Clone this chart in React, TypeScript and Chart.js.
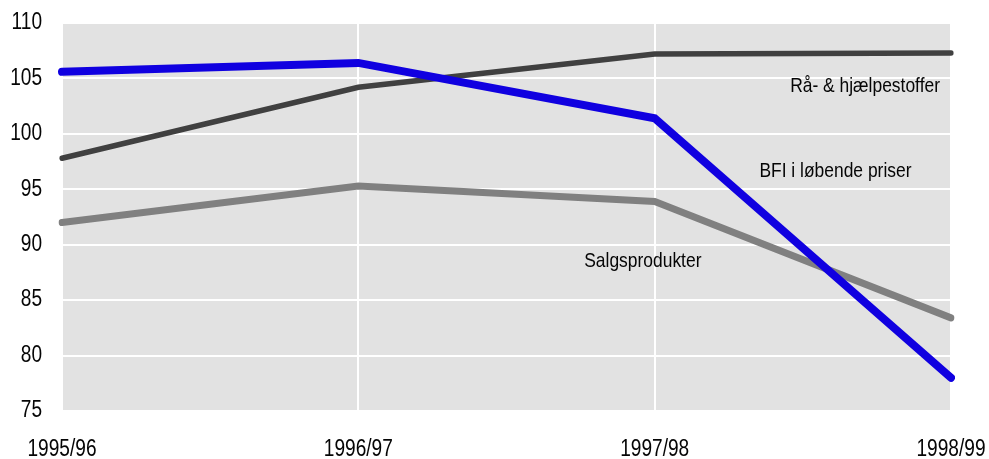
import React, { useEffect, useRef } from "react";
import { Chart, registerables } from "chart.js";

Chart.register(...registerables);

const categories = ["1995/96", "1996/97", "1997/98", "1998/99"];
const raaHjaelpestoffer = [97.8, 104.2, 107.2, 107.3];
const salgsprodukter = [92.0, 95.3, 93.9, 83.4];
const bfiLobendePriser = [105.6, 106.4, 101.4, 78.0];
const yTicks = [75, 80, 85, 90, 95, 100, 105, 110];

const seriesLabels = ["Rå- & hjælpestoffer", "BFI i løbende priser", "Salgsprodukter"];
const labelX = [2.71, 2.61, 1.96];
const labelY = [104.3, 96.6, 88.5];

const FONT = "'Liberation Sans', Arial, sans-serif";
const NARROW = 0.83;

function narrowText(ctx: any, text: string, x: number, y: number, align: "left" | "right" | "center") {
  ctx.save();
  ctx.translate(x, y);
  ctx.scale(NARROW, 1);
  ctx.textAlign = align;
  ctx.fillText(text, 0, 0);
  ctx.restore();
}

const bgPlugin = {
  id: "plotBg",
  beforeDraw(chart: any) {
    const { ctx, chartArea } = chart;
    ctx.save();
    ctx.fillStyle = "#e2e2e2";
    ctx.fillRect(chartArea.left, chartArea.top, chartArea.right - chartArea.left, chartArea.bottom - chartArea.top);
    ctx.restore();
  },
};

const textPlugin = {
  id: "narrowTexts",
  afterDraw(chart: any) {
    const { ctx, scales, chartArea } = chart;
    ctx.save();
    ctx.fillStyle = "#050505";
    ctx.textBaseline = "middle";
    ctx.font = `23px ${FONT}`;
    yTicks.forEach((v) => {
      narrowText(ctx, String(v), chartArea.left - 20, scales.y.getPixelForValue(v), "right");
    });
    categories.forEach((c, i) => {
      narrowText(ctx, c, scales.x.getPixelForValue(i), chartArea.bottom + 39, "center");
    });
    ctx.font = `21px ${FONT}`;
    seriesLabels.forEach((t, i) => {
      narrowText(ctx, t, scales.x.getPixelForValue(labelX[i]), scales.y.getPixelForValue(labelY[i]), "center");
    });
    ctx.restore();
  },
};

export default function App() {
  const ref = useRef<HTMLCanvasElement>(null);
  useEffect(() => {
    if (!ref.current) return;
    const chart = new Chart(ref.current, {
      type: "line",
      data: {
        labels: categories,
        datasets: [
          { label: "BFI i løbende priser", data: bfiLobendePriser, borderColor: "#1000e0", borderWidth: 8, order: 1 },
          { label: "Rå- & hjælpestoffer", data: raaHjaelpestoffer, borderColor: "#404040", borderWidth: 5.5, order: 2 },
          { label: "Salgsprodukter", data: salgsprodukter, borderColor: "#808080", borderWidth: 7, order: 3 },
        ].map((d) => ({
          ...d,
          pointRadius: 0,
          tension: 0,
          fill: false,
          borderCapStyle: "round" as const,
          borderJoinStyle: "miter" as const,
        })),
      },
      options: {
        animation: false,
        responsive: false,
        maintainAspectRatio: false,
        layout: { padding: { top: 23, right: 38, left: 0, bottom: 0 } },
        plugins: { legend: { display: false }, tooltip: { enabled: false } },
        scales: {
          x: {
            offset: false,
            grid: { color: "#ffffff", lineWidth: 2, drawTicks: false },
            border: { display: false },
            ticks: { display: false, autoSkip: false },
            afterFit(scale: any) {
              scale.height = 48;
            },
          },
          y: {
            min: 75,
            max: 110,
            afterBuildTicks(scale: any) {
              scale.ticks = yTicks.map((v) => ({ value: v }));
            },
            grid: { color: "#ffffff", lineWidth: 2, drawTicks: false },
            border: { display: false },
            ticks: { display: false },
            afterFit(scale: any) {
              scale.width = 62;
            },
          },
        },
      },
      plugins: [bgPlugin, textPlugin],
    });
    return () => chart.destroy();
  }, []);
  return (
    <div style={{ position: "fixed", left: 0, top: 0, width: 989, height: 459, background: "#fff" }}>
      <canvas ref={ref} width={989} height={459} style={{ width: 989, height: 459 }} />
    </div>
  );
}
